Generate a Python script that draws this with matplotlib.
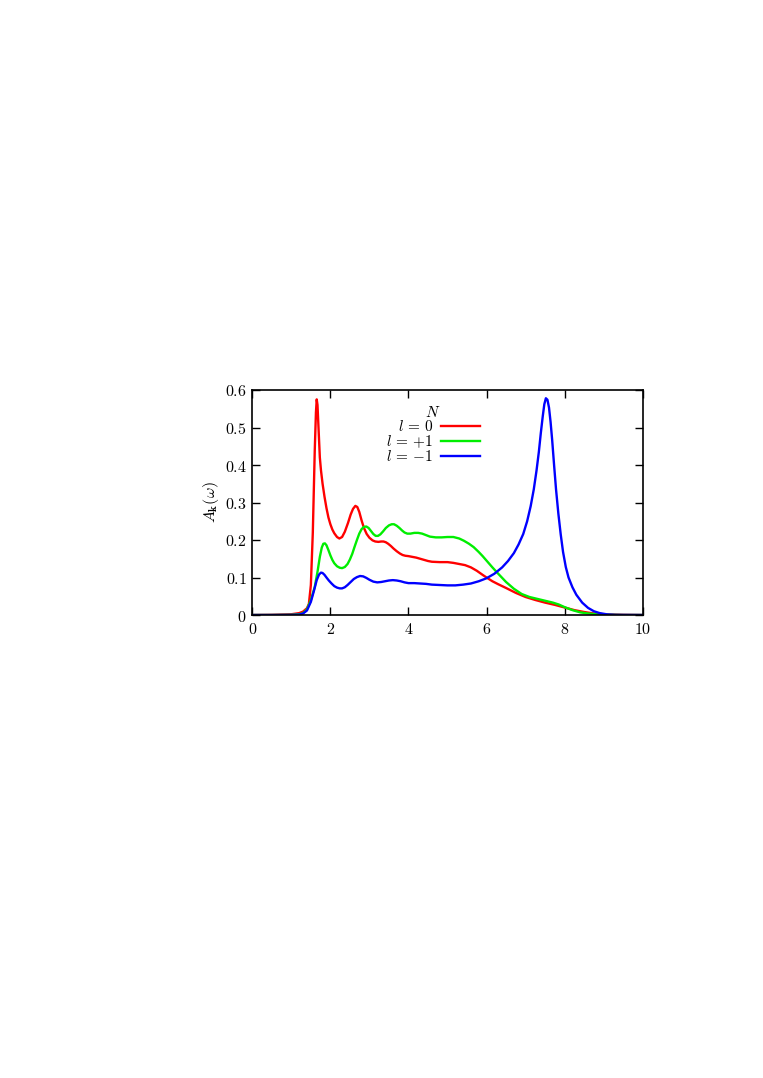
import numpy as np
import matplotlib
matplotlib.use('Agg')
import matplotlib.pyplot as plt
from matplotlib.ticker import FuncFormatter, MultipleLocator

plt.rcParams['mathtext.fontset'] = 'cm'
plt.rcParams['font.family'] = 'serif'
plt.rcParams['font.serif'] = ['DejaVu Serif']

# l = 0 (red)
x_l0 = [0, 0.5, 1.0, 1.2, 1.3, 1.4, 1.45, 1.5, 1.55, 1.6, 1.63, 1.65, 1.67, 1.7, 1.73,
        1.76, 1.8, 1.85, 1.9, 1.95, 2.0, 2.05, 2.1, 2.17, 2.23, 2.3, 2.37, 2.45, 2.52,
        2.58, 2.64, 2.69, 2.74, 2.8, 2.86, 2.93, 3.0, 3.08, 3.15, 3.23, 3.3, 3.36,
        3.42, 3.48, 3.55, 3.62, 3.7, 3.78, 3.85, 3.92, 4.0, 4.1, 4.2, 4.3, 4.4, 4.5,
        4.6, 4.8, 5.0, 5.15, 5.3, 5.45, 5.6, 5.75, 5.9, 6.0, 6.15, 6.3, 6.5, 6.75,
        7.0, 7.25, 7.5, 7.75, 8.0, 8.25, 8.5, 8.75, 9.0, 9.5, 10]
y_l0 = [0, 0.0005, 0.002, 0.005, 0.009, 0.018, 0.03, 0.08, 0.22, 0.44, 0.54, 0.575,
        0.56, 0.49, 0.42, 0.385, 0.35, 0.315, 0.285, 0.26, 0.242, 0.228, 0.218, 0.208,
        0.204, 0.208, 0.222, 0.245, 0.268, 0.283, 0.291, 0.288, 0.275, 0.252, 0.232,
        0.216, 0.206, 0.199, 0.196, 0.195, 0.196, 0.196, 0.194, 0.19, 0.184, 0.177,
        0.17, 0.164, 0.16, 0.158, 0.157, 0.155, 0.153, 0.15, 0.147, 0.144, 0.142,
        0.141, 0.141, 0.139, 0.136, 0.133, 0.127, 0.118, 0.107, 0.1, 0.09, 0.082,
        0.072, 0.059, 0.048, 0.04, 0.033, 0.027, 0.02, 0.013, 0.008, 0.004, 0.002,
        0.0005, 0]

# l = +1 (green)
x_lp = [0, 0.5, 1.0, 1.2, 1.3, 1.4, 1.5, 1.6, 1.67, 1.73, 1.78, 1.82, 1.86, 1.9,
        1.95, 2.0, 2.05, 2.1, 2.17, 2.24, 2.3, 2.37, 2.44, 2.5, 2.56, 2.62, 2.68,
        2.74, 2.8, 2.86, 2.92, 2.98, 3.04, 3.1, 3.16, 3.22, 3.28, 3.35, 3.42, 3.5,
        3.57, 3.63, 3.7, 3.77, 3.84, 3.9, 3.97, 4.05, 4.15, 4.25, 4.35, 4.45, 4.55,
        4.7, 4.85, 5.0, 5.15, 5.3, 5.42, 5.55, 5.67, 5.8, 5.9, 6.0, 6.15, 6.3, 6.5,
        6.7, 6.9, 7.1, 7.3, 7.5, 7.7, 7.85, 8.0, 8.2, 8.4, 8.6, 8.8, 9.0, 9.5, 10]
y_lp = [0, 0, 0.0005, 0.002, 0.005, 0.015, 0.04, 0.075, 0.115, 0.155, 0.18, 0.19,
        0.191, 0.186, 0.173, 0.159, 0.147, 0.138, 0.13, 0.126, 0.125, 0.128, 0.136,
        0.148, 0.163, 0.182, 0.2, 0.217, 0.229, 0.235, 0.236, 0.232, 0.224, 0.216,
        0.211, 0.211, 0.215, 0.223, 0.232, 0.239, 0.242, 0.242, 0.238, 0.232, 0.225,
        0.22, 0.217, 0.217, 0.219, 0.219, 0.217, 0.213, 0.209, 0.207, 0.207, 0.208,
        0.208, 0.204, 0.198, 0.19, 0.181, 0.168, 0.157, 0.145, 0.127, 0.11, 0.088,
        0.07, 0.056, 0.048, 0.043, 0.038, 0.033, 0.028, 0.021, 0.013, 0.007, 0.004,
        0.002, 0.001, 0, 0]

# l = -1 (blue)
x_lm = [0, 0.5, 1.0, 1.2, 1.3, 1.4, 1.5, 1.58, 1.65, 1.71, 1.76, 1.8, 1.85, 1.9,
        1.96, 2.03, 2.1, 2.17, 2.24, 2.3, 2.37, 2.44, 2.52, 2.6, 2.68, 2.76, 2.84,
        2.92, 3.0, 3.1, 3.2, 3.3, 3.4, 3.5, 3.6, 3.7, 3.8, 3.9, 4.0, 4.15, 4.3, 4.45,
        4.6, 4.8, 5.0, 5.2, 5.4, 5.6, 5.8, 6.0, 6.2, 6.4, 6.55, 6.7, 6.82, 6.94,
        7.04, 7.13, 7.21, 7.28, 7.34, 7.39, 7.44, 7.48, 7.52, 7.56, 7.6, 7.64, 7.68,
        7.73, 7.78, 7.84, 7.9, 7.96, 8.03, 8.1, 8.2, 8.3, 8.45, 8.6, 8.75, 8.9, 9.1,
        9.3, 10]
y_lm = [0, 0, 0.0003, 0.001, 0.004, 0.012, 0.035, 0.065, 0.093, 0.108, 0.113, 0.112,
        0.107, 0.1, 0.092, 0.084, 0.077, 0.073, 0.071, 0.071, 0.074, 0.08, 0.088,
        0.096, 0.101, 0.104, 0.103, 0.099, 0.094, 0.089, 0.087, 0.088, 0.09, 0.092,
        0.093, 0.092, 0.09, 0.087, 0.085, 0.085, 0.084, 0.083, 0.081, 0.08, 0.079,
        0.079, 0.081, 0.084, 0.09, 0.098, 0.11, 0.127, 0.144, 0.165, 0.188, 0.216,
        0.25, 0.29, 0.335, 0.385, 0.435, 0.485, 0.53, 0.562, 0.578, 0.574, 0.553,
        0.515, 0.468, 0.4, 0.335, 0.27, 0.215, 0.168, 0.128, 0.1, 0.074, 0.054,
        0.033, 0.019, 0.01, 0.005, 0.0015, 0.0003, 0]

labels = [r'$l\,=\,0$', r'$l\,=\,{+1}$', r'$l\,=\,{-1}$']
colors = ['#ff0000', '#00ee00', '#0000ff']

fig = plt.figure(figsize=(7.63, 10.78), dpi=100)
ax = fig.add_axes([252.3/763, 1 - 615/1078, 390.4/763, 225/1078])

for xs, ys, lab, c in zip([x_l0, x_lp, x_lm], [y_l0, y_lp, y_lm], labels, colors):
    ax.plot(xs, ys, color=c, lw=1.7, label=lab)

ax.set_xlim(0, 10)
ax.set_ylim(0, 0.6)
ax.xaxis.set_major_locator(MultipleLocator(2))
ax.yaxis.set_major_locator(MultipleLocator(0.1))
fmt = FuncFormatter(lambda v, p: r'$%g$' % round(v, 2))
ax.xaxis.set_major_formatter(fmt)
ax.yaxis.set_major_formatter(fmt)
ax.tick_params(direction='in', top=True, right=True, length=5.5, width=1.0,
               labelsize=11.5, pad=4)
for s in ax.spines.values():
    s.set_linewidth(1.2)

ax.set_ylabel(r'$A_{\mathbf{k}}(\omega)$', fontsize=11.5, labelpad=3)

leg = ax.legend(title=r'$N$', markerfirst=False, frameon=False, fontsize=11,
                title_fontsize=11, loc='upper center', bbox_to_anchor=(0.463, 0.968),
                handlelength=2.5, handletextpad=0.55, labelspacing=-0.05, borderpad=0)
for t in leg.get_texts():
    t.set_ha('right')

fig.savefig('out.png', dpi=100)
